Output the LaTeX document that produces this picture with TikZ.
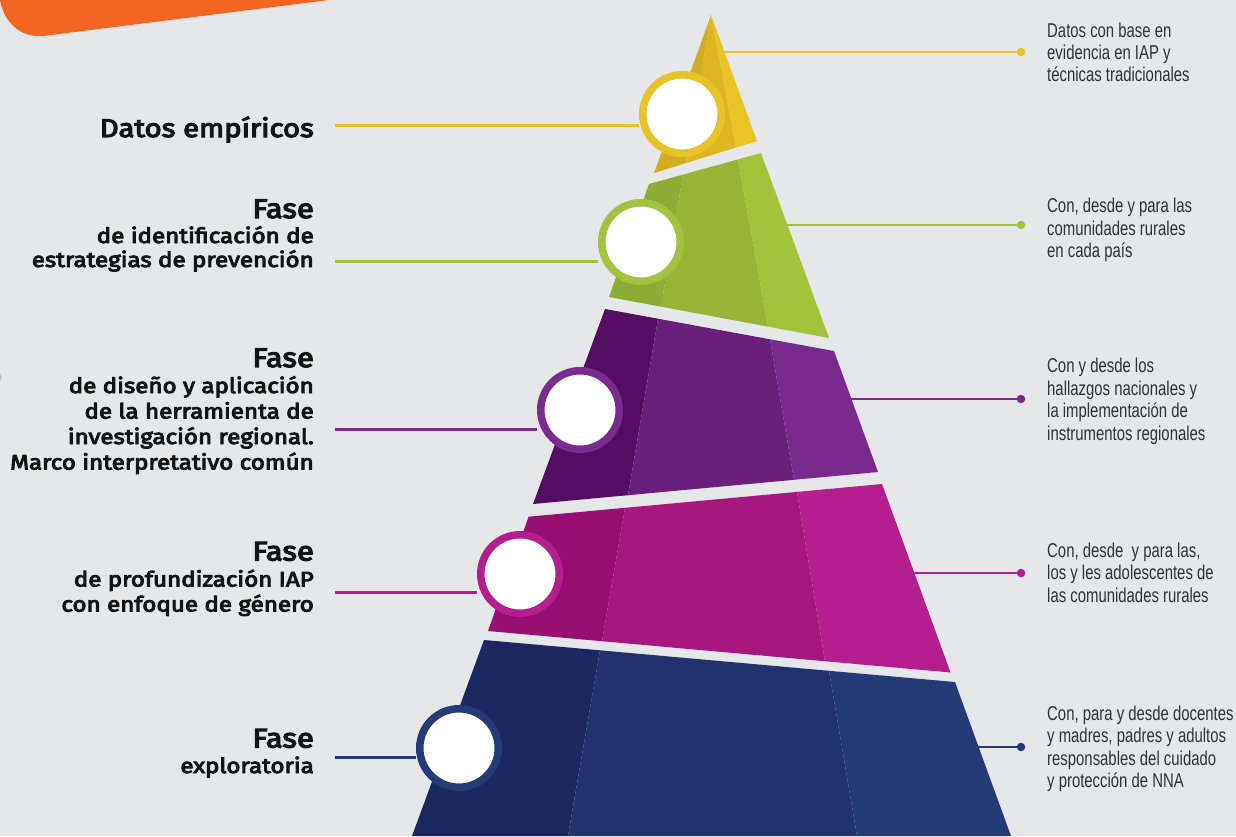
\documentclass[tikz,border=0pt]{standalone}
\usepackage{fontspec}
\setmainfont{Fira Sans}[FakeStretch=1.14]
\newfontfamily\lfont{Fira Sans}[FakeStretch=1.15, FakeBold=4.5]
\newfontfamily\rfont{Liberation Sans}[FakeStretch=0.745]
\definecolor{bg}{HTML}{E6E7E8}
\definecolor{orng}{HTML}{F26522}
\definecolor{ltxt}{HTML}{141414}
\definecolor{rtxtc}{HTML}{333333}
\definecolor{yl}{HTML}{D2AD21}\definecolor{ym}{HTML}{DCB520}\definecolor{yr}{HTML}{E8C426}\definecolor{yring}{HTML}{E8C227}
\definecolor{gl}{HTML}{8DAC36}\definecolor{gm}{HTML}{99B538}\definecolor{gr}{HTML}{A4C33D}\definecolor{gring}{HTML}{A3C23D}
\definecolor{pl}{HTML}{540D63}\definecolor{pm}{HTML}{6A1F7C}\definecolor{pr}{HTML}{7A2A8E}\definecolor{pring}{HTML}{7B2B8F}
\definecolor{ml}{HTML}{980F73}\definecolor{mm}{HTML}{A6177F}\definecolor{mr}{HTML}{B41E8F}\definecolor{mring}{HTML}{B41E8F}
\definecolor{nl}{HTML}{1B275E}\definecolor{nm}{HTML}{22326E}\definecolor{nr}{HTML}{253B78}\definecolor{nring}{HTML}{253B78}
\tikzset{
  lline/.style={line width=3pt},
  rline/.style={line width=2.5pt},
  ring/.style={circle, draw=#1, fill=white, line width=7.5pt, minimum size=78.5pt, inner sep=0pt},
  rdot/.style={circle, fill=#1, minimum size=8.5pt, inner sep=0pt},
  ltitle/.style={anchor=base east, inner sep=0pt, font=\lfont\fontsize{27}{27}\selectfont, text=ltxt},
  lsub/.style={anchor=base east, inner sep=0pt, font=\lfont\fontsize{21}{21}\selectfont, text=ltxt},
  rtxt/.style={anchor=base west, inner sep=0pt, font=\rfont\fontsize{20}{20}\selectfont, text=rtxtc},
}
\begin{document}
\begin{tikzpicture}[x=1pt,y=-1pt]
\useasboundingbox (0,0) rectangle (1236,836);
\fill[bg] (0,0) rectangle (1236,836);
% orange corner shape
\fill[orng] (0,-10) -- (0,0) .. controls (4,22) and (20,38) .. (43,36) -- (345,-2) -- (345,-10) -- cycle;
% small grey mark at left edge
\fill[black!25] (-3,377) circle (5);

% ---- coordinates
\coordinate (yA) at (711,15); \coordinate (yR) at (757,141); \coordinate (yL) at (654,173);
\coordinate (yD1) at (686,163); \coordinate (yD2) at (736,147.5);
\coordinate (gTL) at (649,184); \coordinate (gTR) at (761,153); \coordinate (gBR) at (829,338); \coordinate (gBL) at (609,297);
\coordinate (gD1t) at (683,174.6); \coordinate (gD1b) at (661,306.7); \coordinate (gD2t) at (738,159.4); \coordinate (gD2b) at (768,326.6);
\coordinate (pTL) at (605,309); \coordinate (pTR) at (834,351); \coordinate (pBR) at (878,472); \coordinate (pBL) at (533,504);
\coordinate (pD1t) at (658,318.7); \coordinate (pD1b) at (628,495.2); \coordinate (pD2t) at (770,339.3); \coordinate (pD2b) at (794,479.8);
\coordinate (mTL) at (528.6,516.7); \coordinate (mTR) at (882,484); \coordinate (mBR) at (950.5,672.5); \coordinate (mBL) at (488,631);
\coordinate (mD1t) at (625,507.8); \coordinate (mD1b) at (602,641.2); \coordinate (mD2t) at (797,491.9); \coordinate (mD2b) at (825,661.2);
\coordinate (nTL) at (484,640); \coordinate (nTR) at (955,682); \coordinate (nBR) at (1011,836); \coordinate (nBL) at (412,836);
\coordinate (nD1t) at (600,650.3); \coordinate (nD1b) at (568,836); \coordinate (nD2t) at (829,670.8); \coordinate (nD2b) at (857,836);

% ---- connector anchors
\coordinate (lY) at (335,125); \coordinate (lG) at (335,261); \coordinate (lP) at (335,429); \coordinate (lM) at (335,592); \coordinate (lN) at (335,757);
\coordinate (rY) at (718,52); \coordinate (rG) at (780,225); \coordinate (rP) at (840,399); \coordinate (rM) at (905,573); \coordinate (rN) at (970,747);
\node[rdot=yring] (dY) at (1021,52) {};
\node[rdot=gring] (dG) at (1021,225) {};
\node[rdot=pring] (dP) at (1021,399) {};
\node[rdot=mring] (dM) at (1021,573) {};
\node[rdot=nring] (dN) at (1021,747) {};
\draw[rline,yring] (rY) -- (dY);
\draw[rline,gring] (rG) -- (dG);
\draw[rline,pring] (rP) -- (dP);
\draw[rline,mring] (rM) -- (dM);
\draw[rline,nring] (rN) -- (dN);

% ---- layers
\fill[yl] (yA) -- (yD1) -- (yL) -- cycle;
\fill[ym] (yA) -- (yD2) -- (yD1) -- cycle;
\fill[yr] (yA) -- (yR) -- (yD2) -- cycle;
\fill[gl] (gTL) -- (gD1t) -- (gD1b) -- (gBL) -- cycle;
\fill[gm] (gD1t) -- (gD2t) -- (gD2b) -- (gD1b) -- cycle;
\fill[gr] (gD2t) -- (gTR) -- (gBR) -- (gD2b) -- cycle;
\fill[pl] (pTL) -- (pD1t) -- (pD1b) -- (pBL) -- cycle;
\fill[pm] (pD1t) -- (pD2t) -- (pD2b) -- (pD1b) -- cycle;
\fill[pr] (pD2t) -- (pTR) -- (pBR) -- (pD2b) -- cycle;
\fill[ml] (mTL) -- (mD1t) -- (mD1b) -- (mBL) -- cycle;
\fill[mm] (mD1t) -- (mD2t) -- (mD2b) -- (mD1b) -- cycle;
\fill[mr] (mD2t) -- (mTR) -- (mBR) -- (mD2b) -- cycle;
\fill[nl] (nTL) -- (nD1t) -- (nD1b) -- (nBL) -- cycle;
\fill[nm] (nD1t) -- (nD2t) -- (nD2b) -- (nD1b) -- cycle;
\fill[nr] (nD2t) -- (nTR) -- (nBR) -- (nD2b) -- cycle;

% ---- circles
\node[ring=yring] (cY) at (682,114) {};
\node[ring=gring] (cG) at (641,242) {};
\node[ring=pring] (cP) at (580,410) {};
\node[ring=mring] (cM) at (520,574) {};
\node[ring=nring] (cN) at (459,748) {};
\draw[lline,yring] (lY) -- (cY.west |- lY);
\draw[lline,gring] (lG) -- (cG.west |- lG);
\draw[lline,pring] (lP) -- (cP.west |- lP);
\draw[lline,mring] (lM) -- (cM.west |- lM);
\draw[lline,nring] (lN) -- (cN.west |- lN);

% ---- left texts
\node[ltitle, font=\lfont\fontsize{25.5}{25.5}\selectfont] (tY) at (314,137) {Datos empíricos};
\node[ltitle] (tG1) at (314,218) {Fase};
\node[lsub] (tG2) at (314,243) {de identificación de};
\node[lsub] (tG3) at (314,267) {estrategias de prevención};
\node[ltitle] (tP1) at (314,367) {Fase};
\node[lsub] (tP2) at (314,393) {de diseño y aplicación};
\node[lsub] (tP3) at (314,418.5) {de la herramienta de};
\node[lsub] (tP4) at (314,444) {investigación regional.};
\node[lsub] (tP5) at (314,469.5) {Marco interpretativo común};
\node[ltitle] (tM1) at (314,560.5) {Fase};
\node[lsub] (tM2) at (314,586.5) {de profundización IAP};
\node[lsub] (tM3) at (314,611.5) {con enfoque de género};
\node[ltitle] (tN1) at (314,747.5) {Fase};
\node[lsub] (tN2) at (314,773) {exploratoria};

% ---- right texts
\node[rtxt] (sY1) at (1047,37.7) {Datos con base en};
\node[rtxt] (sY2) at (1047,59.7) {evidencia en IAP y};
\node[rtxt] (sY3) at (1047,81.7) {técnicas tradicionales};
\node[rtxt] (sG1) at (1047,212.7) {Con, desde y para las};
\node[rtxt] (sG2) at (1047,235.2) {comunidades rurales};
\node[rtxt] (sG3) at (1047,257.7) {en cada país};
\node[rtxt] (sP1) at (1047,372.7) {Con y desde los};
\node[rtxt] (sP2) at (1047,395.2) {hallazgos nacionales y};
\node[rtxt] (sP3) at (1047,417.7) {la implementación de};
\node[rtxt] (sP4) at (1047,440.2) {instrumentos regionales};
\node[rtxt] (sM1) at (1047,557) {Con, desde\ \ y para las,};
\node[rtxt] (sM2) at (1047,579.5) {los y les adolescentes de};
\node[rtxt] (sM3) at (1047,602) {las comunidades rurales};
\node[rtxt] (sN1) at (1047,720) {Con, para y desde docentes};
\node[rtxt] (sN2) at (1047,742.5) {y madres, padres y adultos};
\node[rtxt] (sN3) at (1047,765) {responsables del cuidado};
\node[rtxt] (sN4) at (1047,787.5) {y protección de NNA};
\end{tikzpicture}
\end{document}
